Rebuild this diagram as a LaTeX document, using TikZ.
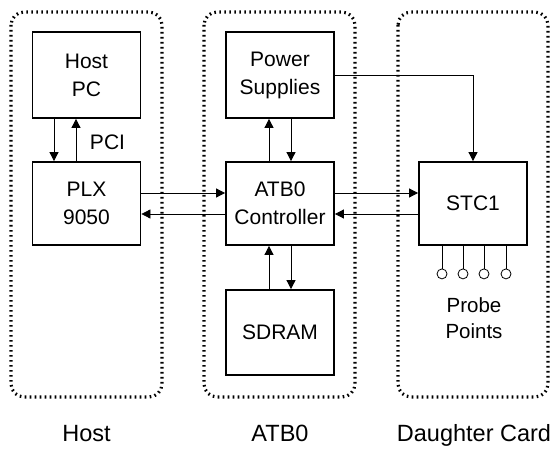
\documentclass[tikz,border=0pt]{standalone}
\usepackage{fontspec}
\setmainfont{Liberation Sans}
\usetikzlibrary{arrows.meta,calc}
\begin{document}
\begin{tikzpicture}[x=1pt,y=-1pt,
  box/.style={draw,line width=1.8pt,minimum width=108pt,minimum height=85pt,align=center,inner sep=0pt,font=\fontsize{21}{28}\selectfont},
  arr/.style={line width=0.8pt,-{Triangle[length=9pt,width=9pt]}},
  wire/.style={line width=0.8pt},
  group/.style={line width=3.2pt,dash pattern=on 1.6pt off 3.4pt,rounded corners=13pt},
  lbl/.style={font=\fontsize{23.5}{28}\selectfont,anchor=base},
  probe/.style={circle,draw,line width=0.8pt,minimum size=10pt,inner sep=0pt}]
\useasboundingbox (0,0) rectangle (559,449);
% containers
\draw[group] (11,12) rectangle (162,397);
\draw[group] (204,12) rectangle (355,397);
\draw[group] (398,12) rectangle (548,397);
% boxes
\node[box,minimum height=86pt] (hostpc) at (86.5,75) {Host\\PC};
\node[box,minimum height=83pt] (plx) at (86.5,203.5) {PLX\\9050};
\node[box,minimum height=86pt] (power) at (280,75) {Power\\Supplies};
\node[box,minimum height=83pt] (ctrl) at (280,203.5) {ATB0\\Controller};
\node[box] (sdram) at (280,332.5) {SDRAM};
\node[box,minimum height=83pt] (stc) at (473,203.5) {STC1};
% host <-> plx
\draw[arr] ($(hostpc.south)+(-32.5,0)$) -- ($(plx.north)+(-32.5,0)$);
\draw[arr] ($(plx.north)+(-10.5,0)$) -- ($(hostpc.south)+(-10.5,0)$);
\node[font=\fontsize{21}{28}\selectfont,anchor=base] (pci) at (107.5,150) {PCI};
% plx <-> ctrl
\draw[arr] ($(plx.east)+(0,-10.5)$) -- ($(ctrl.west)+(0,-10.5)$);
\draw[arr] ($(ctrl.west)+(0,10.5)$) -- ($(plx.east)+(0,10.5)$);
% power <-> ctrl
\draw[arr] ($(ctrl.north)+(-11,0)$) -- ($(power.south)+(-11,0)$);
\draw[arr] ($(power.south)+(11,0)$) -- ($(ctrl.north)+(11,0)$);
% ctrl <-> sdram
\draw[arr] ($(sdram.north)+(-11,0)$) -- ($(ctrl.south)+(-11,0)$);
\draw[arr] ($(ctrl.south)+(11,0)$) -- ($(sdram.north)+(11,0)$);
% ctrl <-> stc
\draw[arr] ($(ctrl.east)+(0,-10.5)$) -- ($(stc.west)+(0,-10.5)$);
\draw[arr] ($(stc.west)+(0,10.5)$) -- ($(ctrl.east)+(0,10.5)$);
% power -> stc
\draw[arr] (power.east) -| (stc.north);
% probe points
\foreach \i/\dx in {1/-31,2/-10,3/11,4/33}{
  \node[probe] (p\i) at ($(stc.south)+(\dx,28)$) {};
  \draw[wire] ($(stc.south)+(\dx,0)$) -- (p\i.north);
}
\node[font=\fontsize{20.5}{26}\selectfont,align=center] (pp) at (474,318) {Probe\\Points};
% labels
\node[lbl] (lhost) at (86.5,441) {Host};
\node[lbl] (latb) at (280,441) {ATB0};
\node[lbl] (ldc) at (474,441) {Daughter Card};
\end{tikzpicture}
\end{document}
